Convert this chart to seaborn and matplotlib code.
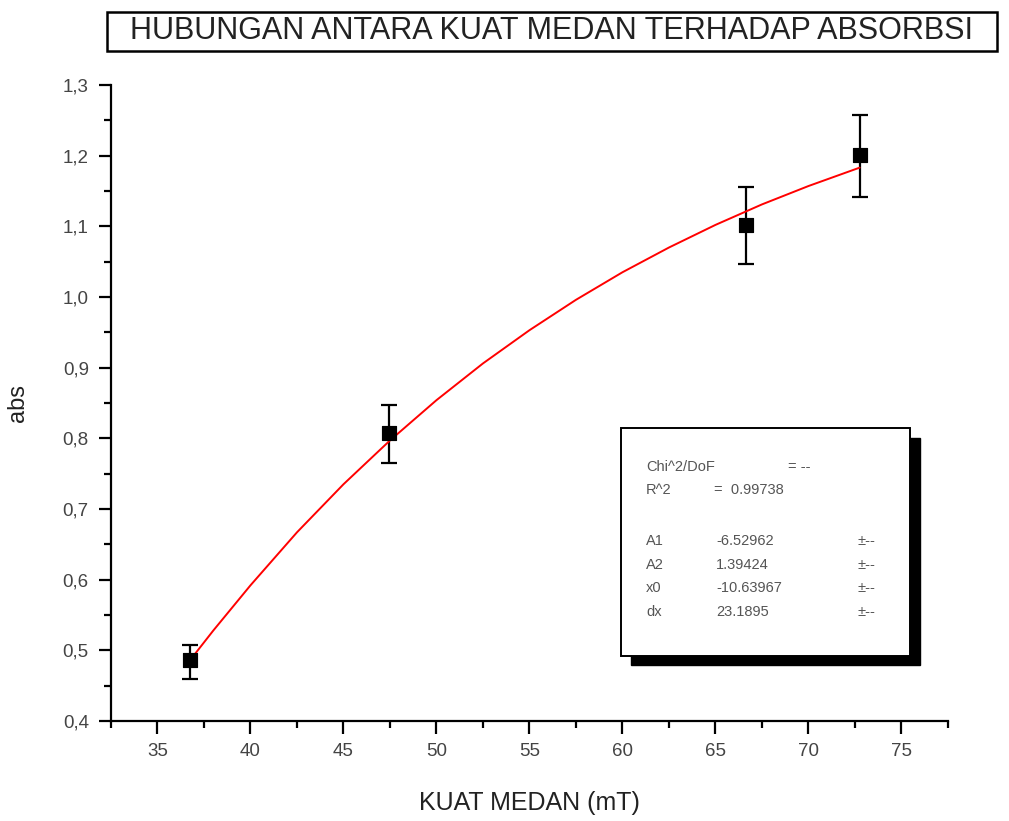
import numpy as np
import pandas as pd
import matplotlib
matplotlib.use("Agg")
import matplotlib.pyplot as plt
import matplotlib.patches as patches
from matplotlib.ticker import MultipleLocator, FuncFormatter
import seaborn as sns

# Measured points (with error bars)
kuat_medan = [36.75, 47.45, 66.65, 72.75]
absorbsi = [0.487, 0.808, 1.102, 1.201]
err_low = [0.027, 0.043, 0.056, 0.059]
err_high = [0.021, 0.039, 0.054, 0.057]

# Fitted curve
fit_x = [36.75, 38, 40, 42.5, 45, 47.5, 50, 52.5, 55, 57.5, 60, 62.5, 65, 67.5, 70, 72.75]
fit_y = [0.486, 0.528, 0.592, 0.667, 0.735, 0.797, 0.854, 0.906, 0.953, 0.996,
         1.035, 1.070, 1.102, 1.131, 1.157, 1.183]

fit_rows = [("Chi^2/DoF", "= --", ""),
            ("R^2", "=  0.99738", ""),
            ("A1", "-6.52962", "±--"),
            ("A2", "1.39424", "±--"),
            ("x0", "-10.63967", "±--"),
            ("dx", "23.1895", "±--")]

sns.set_style("ticks")
plt.rcParams['font.family'] = ['Liberation Sans', 'DejaVu Sans']

W, H = 1009, 821
def fx(px):
    return px / W
def fy(py):
    return 1 - py / H

fig = plt.figure(figsize=(10.09, 8.21), dpi=100)
ax = fig.add_axes([0.110, 0.1218, 0.8295, 0.7747])

points = pd.DataFrame({"x": kuat_medan, "y": absorbsi})
curve = pd.DataFrame({"x": fit_x, "y": fit_y})

sns.lineplot(data=curve, x="x", y="y", color="red", lw=1.4, ax=ax, zorder=3)
ax.errorbar(kuat_medan, absorbsi, yerr=[err_low, err_high], fmt="none",
            ecolor="black", elinewidth=1.6, capsize=6, capthick=1.6, zorder=2)
sns.scatterplot(data=points, x="x", y="y", marker="s", s=110, color="black",
                edgecolor="black", ax=ax, zorder=4)

ax.set_xlim(32.5, 77.5)
ax.set_ylim(0.4, 1.3)
ax.xaxis.set_major_locator(MultipleLocator(5))
ax.xaxis.set_minor_locator(MultipleLocator(2.5))
ax.yaxis.set_major_locator(MultipleLocator(0.1))
ax.yaxis.set_minor_locator(MultipleLocator(0.05))
ax.yaxis.set_major_formatter(FuncFormatter(lambda v, p: f"{v:.1f}".replace(".", ",")))
ax.xaxis.set_major_formatter(FuncFormatter(lambda v, p: f"{v:.0f}"))

sns.despine(ax=ax)
for s in ["left", "bottom"]:
    ax.spines[s].set_linewidth(1.6)
    ax.spines[s].set_color("black")
ax.tick_params(which="major", length=9, width=1.6, direction="out", colors="black",
               labelcolor="#444444", labelsize=13.5, pad=7)
ax.tick_params(which="minor", length=5, width=1.6, direction="out", colors="black")

ax.set_xlabel("KUAT MEDAN (mT)", fontsize=18, labelpad=22, color="#222222")
ax.set_ylabel("abs", fontsize=17, labelpad=24, color="#222222")

# Title in a box
title_box = patches.Rectangle((fx(107), fy(51)), fx(997) - fx(107), fy(12) - fy(51),
                              transform=fig.transFigure, fc="white", ec="black", lw=1.8)
fig.patches.append(title_box)
fig.text(fx(552), fy(31), "HUBUNGAN ANTARA KUAT MEDAN TERHADAP ABSORBSI",
         ha="center", va="center", fontsize=22, color="#222222")

# Fit results box with shadow
shadow = patches.Rectangle((fx(631), fy(665)), fx(920) - fx(631), fy(438) - fy(665),
                           transform=fig.transFigure, fc="black", ec="black", zorder=5)
box = patches.Rectangle((fx(621), fy(656)), fx(910) - fx(621), fy(428) - fy(656),
                        transform=fig.transFigure, fc="white", ec="black", lw=1.4, zorder=6)
fig.patches.extend([shadow, box])

row_y = [467, 490, 541, 565, 588, 612]
for (name, val, err), py in zip(fit_rows, row_y):
    fig.text(fx(646), fy(py), name, fontsize=10.5, color="#555555", va="center", zorder=7)
    if name == "Chi^2/DoF":
        fig.text(fx(788), fy(py), val, fontsize=10.5, color="#555555", va="center", zorder=7)
    elif name == "R^2":
        fig.text(fx(714), fy(py), val, fontsize=10.5, color="#555555", va="center", zorder=7)
    else:
        fig.text(fx(716), fy(py), val, fontsize=10.5, color="#555555", va="center", zorder=7)
        fig.text(fx(858), fy(py), err, fontsize=10.5, color="#555555", va="center", zorder=7)

fig.savefig("out.png", dpi=100)
